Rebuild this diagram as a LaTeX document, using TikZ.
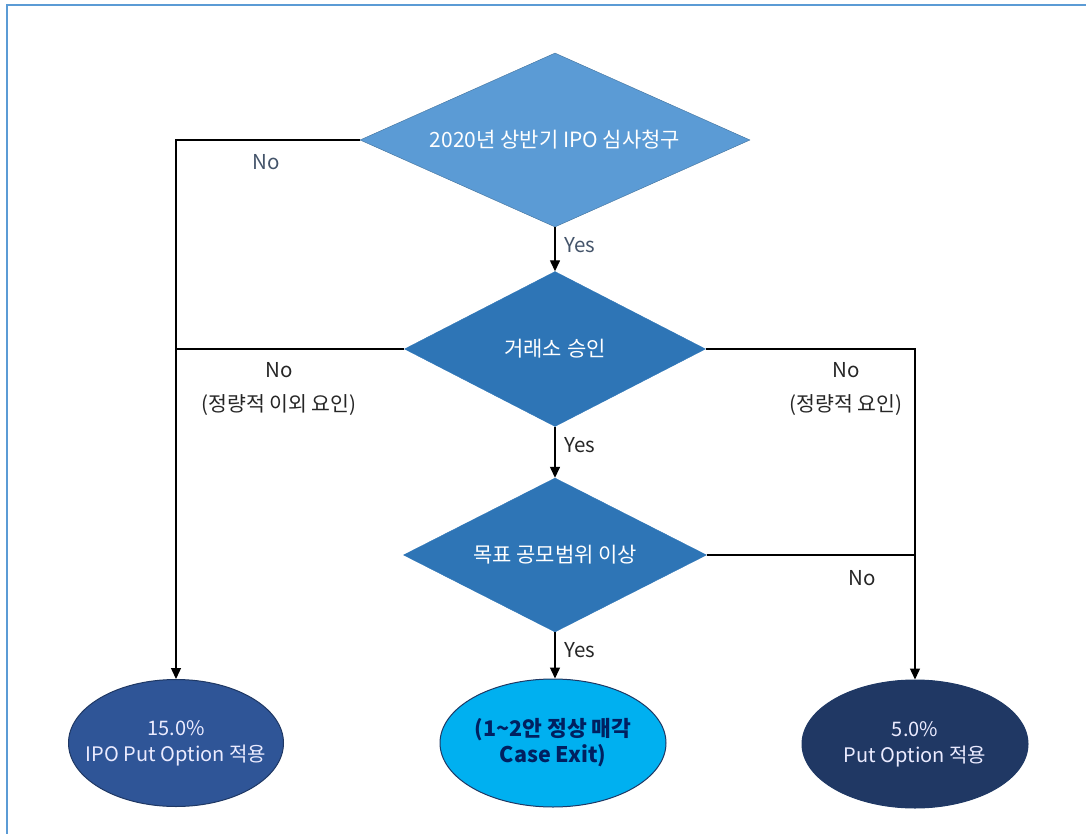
\documentclass[tikz,border=0pt]{standalone}
\usepackage{fontspec}
\setmainfont{Noto Sans CJK KR}
\usetikzlibrary{shapes.geometric,arrows.meta}
\definecolor{frameblue}{HTML}{5B9BD5}
\definecolor{lightdia}{HTML}{5B9BD5}
\definecolor{lightdiaedge}{HTML}{41719C}
\definecolor{middia}{HTML}{2E75B6}
\definecolor{leftoval}{HTML}{2F5597}
\definecolor{cyanoval}{HTML}{00B0F0}
\definecolor{navyoval}{HTML}{203864}
\definecolor{ovaledge}{HTML}{1F3864}
\definecolor{labelgrey}{HTML}{44546A}
\definecolor{darktext}{HTML}{002060}
\tikzset{
  decision/.style={diamond, draw=#1, fill=#1, inner sep=0pt, text=white,
    font=\fontsize{21}{24}\selectfont},
  outcome/.style={ellipse, draw=ovaledge, line width=1pt, fill=#1,
    inner xsep=-20pt, inner ysep=0pt,
    minimum width=226pt, minimum height=128pt, align=center,
    font=\fontsize{20}{26}\selectfont},
  flow/.style={line width=1.4pt, black},
  arrowflow/.style={flow, -{Triangle[length=11pt,width=10pt]}},
  lbl/.style={font=\fontsize{20.5}{24}\selectfont, text=#1, align=center, inner sep=0pt},
}
\begin{document}
\begin{tikzpicture}[x=1pt, y=-1pt]
  \useasboundingbox (0,0) rectangle (1086,834);
  % sheet edge
  \draw[frameblue, line width=1.2pt] (7,834) -- (7,5) -- (1086,5);

  % decisions
  \node[decision=lightdia, draw=lightdiaedge, shape aspect=2.24,
    minimum width=390pt, minimum height=174pt]
    (d1) at (555,140) {2020년 상반기 IPO 심사청구};
  \node[decision=middia, shape aspect=1.94, minimum width=301pt, minimum height=155pt]
    (d2) at (555,349) {거래소 승인};
  \node[decision=middia, shape aspect=1.97, minimum width=303pt, minimum height=154pt]
    (d3) at (555,555) {목표 공모범위 이상};

  % outcomes
  \node[outcome=leftoval, minimum width=215pt, minimum height=127pt, text=white!92!blue]
    (o1) at (176,743) {15.0\%\\IPO Put Option 적용};
  \node[outcome=cyanoval, text=darktext, font=\fontsize{21.5}{26}\selectfont\bfseries]
    (o2) at (553,743) {(1\textasciitilde2안 정상 매각\\Case Exit)};
  \node[outcome=navyoval, text=white!92!blue] (o3) at (915,744)
    {5.0\%\\Put Option 적용};

  % connectors
  \draw[arrowflow] (d1.south) -- (d2.north);
  \draw[arrowflow] (d2.south) -- (d3.north);
  \draw[arrowflow] (d3.south) -- (d3.south |- o2.north);
  \draw[arrowflow] (d1.west) -| (o1.north);
  \draw[flow] (d2.west) -- (d2.west -| o1.north);
  \draw[arrowflow] (d2.east) -| (o3.north);
  \draw[flow] (d3.east) -- (d3.east -| o3.north);

  % branch labels
  \node[lbl=labelgrey] (n1) at (266,162) {No};
  \node[lbl=labelgrey] (y1) at (580,245) {Yes};
  \node[lbl=black!85] (n2) at (279,370) {No};
  \node[lbl=black!85] (n2b) at (279,405) {(정량적 이외 요인)};
  \node[lbl=black!85] (y2) at (580,445) {Yes};
  \node[lbl=black!85] (n3) at (846,370) {No};
  \node[lbl=black!85] (n3b) at (846,405) {(정량적 요인)};
  \node[lbl=black!85] (n4) at (862,578) {No};
  \node[lbl=black!85] (y3) at (580,650) {Yes};
\end{tikzpicture}
\end{document}
